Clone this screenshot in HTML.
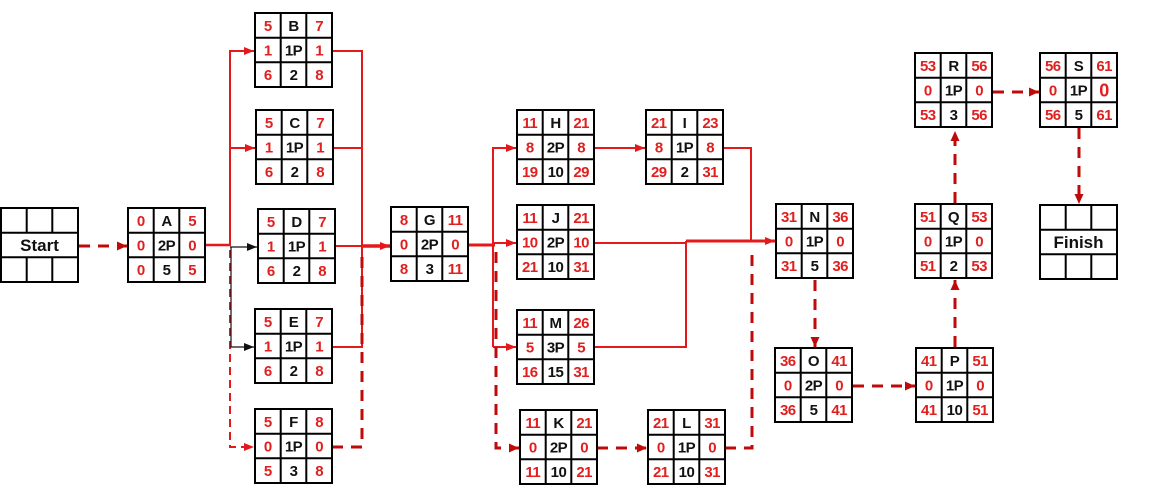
<!DOCTYPE html>
<html><head><meta charset="utf-8"><style>
html,body{margin:0;padding:0;background:#fff;}
svg{display:block;}
.bx rect,.bx path{fill:none;stroke:#000;stroke-width:2;}
.bx rect{fill:#fff;}
text{font-family:"Liberation Sans",Arial,sans-serif;font-weight:bold;font-size:15px;text-anchor:middle;letter-spacing:-0.5px;}
.r{fill:#e0201f;}
.k{fill:#111;}
.big{font-size:17px;letter-spacing:0;}
.sr{fill:none;stroke:#e3191b;stroke-width:2;}
.dk{fill:none;stroke:#bf0a0a;stroke-width:3;stroke-dasharray:11 8;}
.dl{fill:none;stroke:#e3191b;stroke-width:2;stroke-dasharray:8 5;}
.bl{fill:none;stroke:#111;stroke-width:1.2;}
</style></head><body>
<svg width="1175" height="501" viewBox="0 0 1175 501" xmlns="http://www.w3.org/2000/svg">
<defs>
<marker id="ar" markerWidth="10" markerHeight="10" refX="10" refY="5" orient="auto" markerUnits="userSpaceOnUse"><path d="M0,1 L10,5 L0,9z" fill="#e3191b"/></marker>
<marker id="ad" markerWidth="10" markerHeight="10" refX="10" refY="5" orient="auto" markerUnits="userSpaceOnUse"><path d="M0,0.5 L10,5 L0,9.5z" fill="#bf0a0a"/></marker>
<marker id="ak" markerWidth="10" markerHeight="10" refX="10" refY="5" orient="auto" markerUnits="userSpaceOnUse"><path d="M0,1 L10,5 L0,9z" fill="#111"/></marker>
</defs>

<!-- connectors -->
<path class="dk" d="M79,246 H127" marker-end="url(#ad)"/>
<path class="sr" d="M204,245 H230" style="stroke-width:2.5"/>
<path class="sr" d="M230,246 V51 H254" marker-end="url(#ar)"/>
<path class="sr" d="M230,148 H255" marker-end="url(#ar)"/>
<path class="dl" d="M230,250 V447 H254" marker-end="url(#ar)"/>
<path class="bl" d="M230,247 H257" marker-end="url(#ak)"/>
<path class="bl" d="M231,247 V347 H254" marker-end="url(#ak)"/>
<path class="sr" d="M332,51 H362 V347 H332"/>
<path class="sr" d="M332,148 H362"/>
<path class="sr" d="M335,246 H362"/>
<path class="dk" d="M332,447 H362 V252"/>
<path class="sr" d="M362,246 H390" style="stroke-width:3.5" marker-end="url(#ar)"/>

<path class="sr" d="M467,245 H495" style="stroke-width:3"/>
<path class="sr" d="M493,347 V148 H516" marker-end="url(#ar)"/>
<path class="sr" d="M493,243 H516" marker-end="url(#ar)"/>
<path class="sr" d="M493,347 H516" marker-end="url(#ar)"/>
<path class="dk" d="M496,252 V448 H519" marker-end="url(#ad)"/>

<path class="sr" d="M594,148 H645" marker-end="url(#ar)"/>
<path class="sr" d="M723,148 H751 V241"/>
<path class="sr" d="M594,243 H686"/>
<path class="sr" d="M594,347 H686 V241"/>
<path class="sr" d="M686,241 H775" style="stroke-width:3" marker-end="url(#ar)"/>
<path class="dk" d="M597,448 H647" marker-end="url(#ad)"/>
<path class="dk" d="M725,448 H752 V251"/>

<path class="dk" d="M815,280 V347" marker-end="url(#ad)"/>
<path class="dk" d="M853,386 H915" marker-end="url(#ad)"/>
<path class="dk" d="M955,347 V280" marker-end="url(#ad)"/>
<path class="dk" d="M955,203 V131" marker-end="url(#ad)"/>
<path class="dk" d="M993,92 H1039" marker-end="url(#ad)"/>
<path class="dk" d="M1079,128 V204" marker-end="url(#ad)"/>

<!-- Start -->
<g class="bx" transform="translate(1,208)">
<rect x="0" y="0" width="77" height="74"/>
<path d="M0 24.7H77M0 49.3H77M25.7 0V24.7M51.3 0V24.7M25.7 49.3V74M51.3 49.3V74"/>
<text x="38.5" y="43" class="k big">Start</text>
</g>
<!-- Finish -->
<g class="bx" transform="translate(1040,205)">
<rect x="0" y="0" width="77" height="74"/>
<path d="M0 24.7H77M0 49.3H77M25.7 0V24.7M51.3 0V24.7M25.7 49.3V74M51.3 49.3V74"/>
<text x="38.5" y="43" class="k big">Finish</text>
</g>

<!-- A -->
<g class="bx" transform="translate(128,208)"><rect width="77" height="74"/><path d="M25.7 0V74M51.3 0V74M0 24.7H77M0 49.3H77"/>
<text x="12.8" y="17.8" class="r">0</text><text x="38.5" y="17.8" class="k">A</text><text x="64.2" y="17.8" class="r">5</text>
<text x="12.8" y="42.3" class="r">0</text><text x="38.5" y="42.3" class="k">2P</text><text x="64.2" y="42.3" class="r">0</text>
<text x="12.8" y="66.8" class="r">0</text><text x="38.5" y="66.8" class="k">5</text><text x="64.2" y="66.8" class="r">5</text></g>
<!-- B -->
<g class="bx" transform="translate(255,13)"><rect width="77" height="74"/><path d="M25.7 0V74M51.3 0V74M0 24.7H77M0 49.3H77"/>
<text x="12.8" y="17.8" class="r">5</text><text x="38.5" y="17.8" class="k">B</text><text x="64.2" y="17.8" class="r">7</text>
<text x="12.8" y="42.3" class="r">1</text><text x="38.5" y="42.3" class="k">1P</text><text x="64.2" y="42.3" class="r">1</text>
<text x="12.8" y="66.8" class="r">6</text><text x="38.5" y="66.8" class="k">2</text><text x="64.2" y="66.8" class="r">8</text></g>
<!-- C -->
<g class="bx" transform="translate(256,110)"><rect width="77" height="74"/><path d="M25.7 0V74M51.3 0V74M0 24.7H77M0 49.3H77"/>
<text x="12.8" y="17.8" class="r">5</text><text x="38.5" y="17.8" class="k">C</text><text x="64.2" y="17.8" class="r">7</text>
<text x="12.8" y="42.3" class="r">1</text><text x="38.5" y="42.3" class="k">1P</text><text x="64.2" y="42.3" class="r">1</text>
<text x="12.8" y="66.8" class="r">6</text><text x="38.5" y="66.8" class="k">2</text><text x="64.2" y="66.8" class="r">8</text></g>
<!-- D -->
<g class="bx" transform="translate(258,209)"><rect width="77" height="74"/><path d="M25.7 0V74M51.3 0V74M0 24.7H77M0 49.3H77"/>
<text x="12.8" y="17.8" class="r">5</text><text x="38.5" y="17.8" class="k">D</text><text x="64.2" y="17.8" class="r">7</text>
<text x="12.8" y="42.3" class="r">1</text><text x="38.5" y="42.3" class="k">1P</text><text x="64.2" y="42.3" class="r">1</text>
<text x="12.8" y="66.8" class="r">6</text><text x="38.5" y="66.8" class="k">2</text><text x="64.2" y="66.8" class="r">8</text></g>
<!-- E -->
<g class="bx" transform="translate(255,309)"><rect width="77" height="74"/><path d="M25.7 0V74M51.3 0V74M0 24.7H77M0 49.3H77"/>
<text x="12.8" y="17.8" class="r">5</text><text x="38.5" y="17.8" class="k">E</text><text x="64.2" y="17.8" class="r">7</text>
<text x="12.8" y="42.3" class="r">1</text><text x="38.5" y="42.3" class="k">1P</text><text x="64.2" y="42.3" class="r">1</text>
<text x="12.8" y="66.8" class="r">6</text><text x="38.5" y="66.8" class="k">2</text><text x="64.2" y="66.8" class="r">8</text></g>
<!-- F -->
<g class="bx" transform="translate(255,409)"><rect width="77" height="74"/><path d="M25.7 0V74M51.3 0V74M0 24.7H77M0 49.3H77"/>
<text x="12.8" y="17.8" class="r">5</text><text x="38.5" y="17.8" class="k">F</text><text x="64.2" y="17.8" class="r">8</text>
<text x="12.8" y="42.3" class="r">0</text><text x="38.5" y="42.3" class="k">1P</text><text x="64.2" y="42.3" class="r">0</text>
<text x="12.8" y="66.8" class="r">5</text><text x="38.5" y="66.8" class="k">3</text><text x="64.2" y="66.8" class="r">8</text></g>
<!-- G -->
<g class="bx" transform="translate(391,207)"><rect width="77" height="74"/><path d="M25.7 0V74M51.3 0V74M0 24.7H77M0 49.3H77"/>
<text x="12.8" y="17.8" class="r">8</text><text x="38.5" y="17.8" class="k">G</text><text x="64.2" y="17.8" class="r">11</text>
<text x="12.8" y="42.3" class="r">0</text><text x="38.5" y="42.3" class="k">2P</text><text x="64.2" y="42.3" class="r">0</text>
<text x="12.8" y="66.8" class="r">8</text><text x="38.5" y="66.8" class="k">3</text><text x="64.2" y="66.8" class="r">11</text></g>
<!-- H -->
<g class="bx" transform="translate(517,110)"><rect width="77" height="74"/><path d="M25.7 0V74M51.3 0V74M0 24.7H77M0 49.3H77"/>
<text x="12.8" y="17.8" class="r">11</text><text x="38.5" y="17.8" class="k">H</text><text x="64.2" y="17.8" class="r">21</text>
<text x="12.8" y="42.3" class="r">8</text><text x="38.5" y="42.3" class="k">2P</text><text x="64.2" y="42.3" class="r">8</text>
<text x="12.8" y="66.8" class="r">19</text><text x="38.5" y="66.8" class="k">10</text><text x="64.2" y="66.8" class="r">29</text></g>
<!-- I -->
<g class="bx" transform="translate(646,110)"><rect width="77" height="74"/><path d="M25.7 0V74M51.3 0V74M0 24.7H77M0 49.3H77"/>
<text x="12.8" y="17.8" class="r">21</text><text x="38.5" y="17.8" class="k">I</text><text x="64.2" y="17.8" class="r">23</text>
<text x="12.8" y="42.3" class="r">8</text><text x="38.5" y="42.3" class="k">1P</text><text x="64.2" y="42.3" class="r">8</text>
<text x="12.8" y="66.8" class="r">29</text><text x="38.5" y="66.8" class="k">2</text><text x="64.2" y="66.8" class="r">31</text></g>
<!-- J -->
<g class="bx" transform="translate(517,205)"><rect width="77" height="74"/><path d="M25.7 0V74M51.3 0V74M0 24.7H77M0 49.3H77"/>
<text x="12.8" y="17.8" class="r">11</text><text x="38.5" y="17.8" class="k">J</text><text x="64.2" y="17.8" class="r">21</text>
<text x="12.8" y="42.3" class="r">10</text><text x="38.5" y="42.3" class="k">2P</text><text x="64.2" y="42.3" class="r">10</text>
<text x="12.8" y="66.8" class="r">21</text><text x="38.5" y="66.8" class="k">10</text><text x="64.2" y="66.8" class="r">31</text></g>
<!-- M -->
<g class="bx" transform="translate(517,310)"><rect width="77" height="74"/><path d="M25.7 0V74M51.3 0V74M0 24.7H77M0 49.3H77"/>
<text x="12.8" y="17.8" class="r">11</text><text x="38.5" y="17.8" class="k">M</text><text x="64.2" y="17.8" class="r">26</text>
<text x="12.8" y="42.3" class="r">5</text><text x="38.5" y="42.3" class="k">3P</text><text x="64.2" y="42.3" class="r">5</text>
<text x="12.8" y="66.8" class="r">16</text><text x="38.5" y="66.8" class="k">15</text><text x="64.2" y="66.8" class="r">31</text></g>
<!-- K -->
<g class="bx" transform="translate(520,410)"><rect width="77" height="74"/><path d="M25.7 0V74M51.3 0V74M0 24.7H77M0 49.3H77"/>
<text x="12.8" y="17.8" class="r">11</text><text x="38.5" y="17.8" class="k">K</text><text x="64.2" y="17.8" class="r">21</text>
<text x="12.8" y="42.3" class="r">0</text><text x="38.5" y="42.3" class="k">2P</text><text x="64.2" y="42.3" class="r">0</text>
<text x="12.8" y="66.8" class="r">11</text><text x="38.5" y="66.8" class="k">10</text><text x="64.2" y="66.8" class="r">21</text></g>
<!-- L -->
<g class="bx" transform="translate(648,410)"><rect width="77" height="74"/><path d="M25.7 0V74M51.3 0V74M0 24.7H77M0 49.3H77"/>
<text x="12.8" y="17.8" class="r">21</text><text x="38.5" y="17.8" class="k">L</text><text x="64.2" y="17.8" class="r">31</text>
<text x="12.8" y="42.3" class="r">0</text><text x="38.5" y="42.3" class="k">1P</text><text x="64.2" y="42.3" class="r">0</text>
<text x="12.8" y="66.8" class="r">21</text><text x="38.5" y="66.8" class="k">10</text><text x="64.2" y="66.8" class="r">31</text></g>
<!-- N -->
<g class="bx" transform="translate(776,204)"><rect width="77" height="74"/><path d="M25.7 0V74M51.3 0V74M0 24.7H77M0 49.3H77"/>
<text x="12.8" y="17.8" class="r">31</text><text x="38.5" y="17.8" class="k">N</text><text x="64.2" y="17.8" class="r">36</text>
<text x="12.8" y="42.3" class="r">0</text><text x="38.5" y="42.3" class="k">1P</text><text x="64.2" y="42.3" class="r">0</text>
<text x="12.8" y="66.8" class="r">31</text><text x="38.5" y="66.8" class="k">5</text><text x="64.2" y="66.8" class="r">36</text></g>
<!-- O -->
<g class="bx" transform="translate(775,348)"><rect width="77" height="74"/><path d="M25.7 0V74M51.3 0V74M0 24.7H77M0 49.3H77"/>
<text x="12.8" y="17.8" class="r">36</text><text x="38.5" y="17.8" class="k">O</text><text x="64.2" y="17.8" class="r">41</text>
<text x="12.8" y="42.3" class="r">0</text><text x="38.5" y="42.3" class="k">2P</text><text x="64.2" y="42.3" class="r">0</text>
<text x="12.8" y="66.8" class="r">36</text><text x="38.5" y="66.8" class="k">5</text><text x="64.2" y="66.8" class="r">41</text></g>
<!-- P -->
<g class="bx" transform="translate(916,348)"><rect width="77" height="74"/><path d="M25.7 0V74M51.3 0V74M0 24.7H77M0 49.3H77"/>
<text x="12.8" y="17.8" class="r">41</text><text x="38.5" y="17.8" class="k">P</text><text x="64.2" y="17.8" class="r">51</text>
<text x="12.8" y="42.3" class="r">0</text><text x="38.5" y="42.3" class="k">1P</text><text x="64.2" y="42.3" class="r">0</text>
<text x="12.8" y="66.8" class="r">41</text><text x="38.5" y="66.8" class="k">10</text><text x="64.2" y="66.8" class="r">51</text></g>
<!-- Q -->
<g class="bx" transform="translate(915,204)"><rect width="77" height="74"/><path d="M25.7 0V74M51.3 0V74M0 24.7H77M0 49.3H77"/>
<text x="12.8" y="17.8" class="r">51</text><text x="38.5" y="17.8" class="k">Q</text><text x="64.2" y="17.8" class="r">53</text>
<text x="12.8" y="42.3" class="r">0</text><text x="38.5" y="42.3" class="k">1P</text><text x="64.2" y="42.3" class="r">0</text>
<text x="12.8" y="66.8" class="r">51</text><text x="38.5" y="66.8" class="k">2</text><text x="64.2" y="66.8" class="r">53</text></g>
<!-- R -->
<g class="bx" transform="translate(915,53)"><rect width="77" height="74"/><path d="M25.7 0V74M51.3 0V74M0 24.7H77M0 49.3H77"/>
<text x="12.8" y="17.8" class="r">53</text><text x="38.5" y="17.8" class="k">R</text><text x="64.2" y="17.8" class="r">56</text>
<text x="12.8" y="42.3" class="r">0</text><text x="38.5" y="42.3" class="k">1P</text><text x="64.2" y="42.3" class="r">0</text>
<text x="12.8" y="66.8" class="r">53</text><text x="38.5" y="66.8" class="k">3</text><text x="64.2" y="66.8" class="r">56</text></g>
<!-- S -->
<g class="bx" transform="translate(1040,53)"><rect width="77" height="74"/><path d="M25.7 0V74M51.3 0V74M0 24.7H77M0 49.3H77"/>
<text x="12.8" y="17.8" class="r">56</text><text x="38.5" y="17.8" class="k">S</text><text x="64.2" y="17.8" class="r">61</text>
<text x="12.8" y="42.3" class="r">0</text><text x="38.5" y="42.3" class="k">1P</text><text x="64.2" y="43.5" class="r" style="font-size:18px;letter-spacing:0">0</text>
<text x="12.8" y="66.8" class="r">56</text><text x="38.5" y="66.8" class="k">5</text><text x="64.2" y="66.8" class="r">61</text></g>
</svg>
</body></html>
